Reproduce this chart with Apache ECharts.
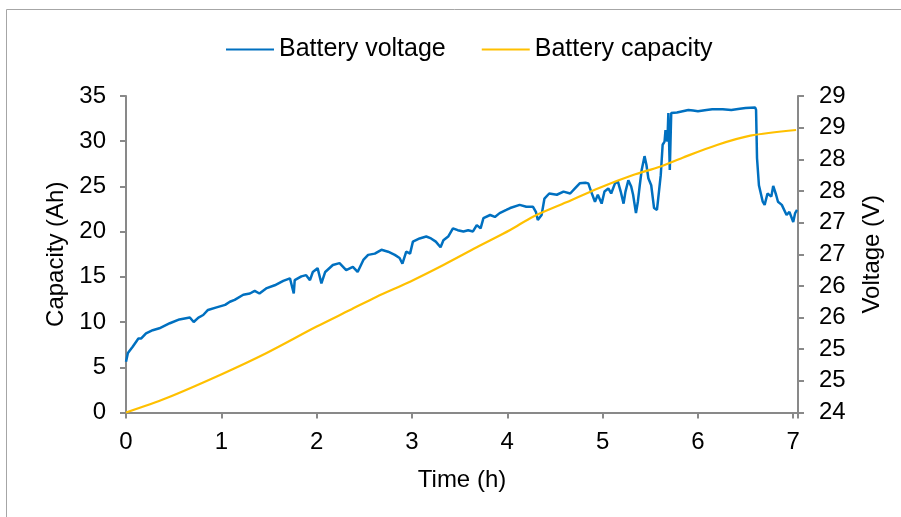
<!DOCTYPE html>
<html>
<head>
<meta charset="utf-8">
<script src="https://cdn.jsdelivr.net/npm/echarts@6/dist/echarts.min.js"></script>
<style>
html,body{margin:0;padding:0;background:#fff;}
#chart{width:901px;height:517px;}
</style>
</head>
<body>
<div id="chart"></div>
<script>
// ---- data ----
const seriesNames = ['Battery voltage', 'Battery capacity'];
const xTickLabels = ['0','1','2','3','4','5','6','7'];
const capTickLabels = ['0','5','10','15','20','25','30','35'];
const voltTickLabels = ['24','25','25','26','26','27','27','28','28','29','29'];

// Battery voltage [time h, volts]
const voltageData = [
[0,24.80],[0.02,24.94],[0.07,25.04],[0.13,25.17],[0.16,25.17],[0.21,25.25],[0.28,25.30],[0.35,25.33],
[0.46,25.41],[0.56,25.47],[0.67,25.50],[0.71,25.43],[0.76,25.50],[0.81,25.54],[0.86,25.62],[0.95,25.66],
[1.04,25.70],[1.09,25.75],[1.14,25.78],[1.23,25.86],[1.30,25.88],[1.35,25.92],[1.40,25.88],[1.47,25.96],
[1.56,26.01],[1.65,26.08],[1.72,26.12],[1.76,25.88],[1.77,26.09],[1.84,26.15],[1.89,26.17],[1.93,26.09],
[1.96,26.22],[2.01,26.28],[2.05,26.04],[2.09,26.22],[2.17,26.33],[2.24,26.36],[2.31,26.25],[2.38,26.30],
[2.43,26.22],[2.49,26.41],[2.54,26.49],[2.61,26.51],[2.68,26.57],[2.75,26.54],[2.82,26.49],[2.87,26.44],
[2.90,26.35],[2.94,26.54],[2.98,26.51],[3.01,26.70],[3.08,26.75],[3.15,26.78],[3.20,26.75],[3.25,26.70],
[3.30,26.61],[3.33,26.72],[3.38,26.78],[3.43,26.91],[3.48,26.88],[3.54,26.86],[3.59,26.88],[3.64,26.86],
[3.68,26.96],[3.72,26.91],[3.75,27.07],[3.82,27.12],[3.87,27.09],[3.92,27.15],[3.99,27.20],[4.03,27.23],
[4.13,27.28],[4.20,27.25],[4.27,27.25],[4.30,27.17],[4.32,27.04],[4.36,27.12],[4.39,27.38],[4.44,27.46],
[4.52,27.44],[4.59,27.49],[4.66,27.46],[4.71,27.54],[4.76,27.62],[4.82,27.63],[4.85,27.62],[4.88,27.49],
[4.92,27.33],[4.95,27.44],[4.99,27.30],[5.02,27.49],[5.06,27.54],[5.09,27.46],[5.13,27.62],[5.16,27.65],
[5.19,27.49],[5.22,27.30],[5.24,27.49],[5.27,27.67],[5.30,27.57],[5.32,27.44],[5.35,27.15],[5.37,27.33],
[5.39,27.59],[5.41,27.83],[5.44,28.05],[5.46,27.91],[5.48,27.70],[5.51,27.59],[5.54,27.23],[5.57,27.20],
[5.58,27.33],[5.61,27.75],[5.63,28.23],[5.65,28.28],[5.66,28.46],[5.68,28.28],[5.69,28.73],[5.705,27.83],
[5.72,28.73],[5.74,28.76],[5.78,28.74],[5.84,28.76],[5.90,28.78],[5.95,28.77],[6.00,28.76],[6.09,28.78],
[6.15,28.79],[6.26,28.79],[6.35,28.78],[6.44,28.80],[6.50,28.81],[6.60,28.82],[6.61,28.78],[6.62,28.02],
[6.64,27.59],[6.68,27.33],[6.70,27.28],[6.73,27.46],[6.75,27.49],[6.77,27.41],[6.79,27.58],[6.82,27.44],
[6.84,27.33],[6.88,27.28],[6.93,27.12],[6.96,27.17],[7.00,27.01],[7.02,27.15],[7.04,27.20]
];

// Battery capacity [time h, Ah]
const capacityData = [
[0,0],[0.42,1.57],[1.01,4.26],[1.47,6.55],[2.0,9.5],[2.35,11.33],[2.63,12.81],[2.98,14.47],
[3.33,16.31],[3.68,18.27],[4.03,20.18],[4.27,21.65],[4.62,23.24],[4.97,24.86],[5.32,26.26],
[5.60,27.18],[5.84,28.18],[6.20,29.58],[6.55,30.61],[7.03,31.24]
];

// ---- chart ----
const FONT = "'Liberation Sans', Arial, sans-serif";
const FS = 24;
const AX = '#898989';
const chart = echarts.init(document.getElementById('chart'), null, {renderer: 'canvas'});
chart.setOption({
  animation: false,
  backgroundColor: '#fff',
  textStyle: {fontFamily: FONT, color: '#000'},
  graphic: [{
    type: 'rect', silent: true,
    shape: {x: 6.5, y: 9.5, width: 1000, height: 1000},
    style: {fill: 'none', stroke: '#a6a6a6', lineWidth: 1}
  }],
  legend: {
    left: 221, top: 32,
    icon: 'rect', itemWidth: 48, itemHeight: 2, itemGap: 36,
    textStyle: {fontFamily: FONT, fontSize: 25, color: '#000'},
    data: seriesNames
  },
  grid: {left: 126, right: 103, top: 96, bottom: 104.5, containLabel: false},
  xAxis: {
    type: 'value', min: 0, max: 7.05, interval: 1,
    name: 'Time (h)', nameLocation: 'middle', nameGap: 56,
    nameTextStyle: {fontFamily: FONT, fontSize: FS, color: '#000'},
    axisLine: {show: true, onZero: false, lineStyle: {color: AX, width: 2}},
    axisTick: {show: true, inside: false, length: 6, lineStyle: {color: AX, width: 2}},
    axisLabel: {margin: 18, fontFamily: FONT, fontSize: FS, color: '#000',
      formatter: (v, i) => (xTickLabels[i] !== undefined && Math.abs(v - i) < 1e-6) ? xTickLabels[i] : ''},
    splitLine: {show: false}
  },
  yAxis: [{
    type: 'value', position: 'left', min: 0, max: 35, interval: 5,
    name: 'Capacity (Ah)', nameLocation: 'middle', nameGap: 52, nameRotate: 90,
    nameTextStyle: {fontFamily: FONT, fontSize: FS, color: '#000'},
    axisLine: {show: true, lineStyle: {color: AX, width: 2}},
    axisTick: {show: true, inside: false, length: 6, lineStyle: {color: AX, width: 2}},
    axisLabel: {margin: 20, fontFamily: FONT, fontSize: FS, color: '#000',
      formatter: (v, i) => capTickLabels[i] !== undefined ? capTickLabels[i] : ''},
    splitLine: {show: false}
  }, {
    type: 'value', position: 'right', min: 24, max: 29, interval: 0.5,
    name: 'Voltage (V)', nameLocation: 'middle', nameGap: 62, nameRotate: 90,
    nameTextStyle: {fontFamily: FONT, fontSize: FS, color: '#000'},
    axisLine: {show: true, lineStyle: {color: AX, width: 2}},
    axisTick: {show: true, inside: false, length: 6, lineStyle: {color: AX, width: 2}},
    axisLabel: {margin: 21, fontFamily: FONT, fontSize: FS, color: '#000',
      formatter: (v, i) => voltTickLabels[i] !== undefined ? voltTickLabels[i] : ''},
    splitLine: {show: false}
  }],
  series: [{
    name: seriesNames[0], type: 'line', yAxisIndex: 1, data: voltageData,
    symbol: 'none', color: '#0070C0', lineStyle: {color: '#0070C0', width: 2.5}
  }, {
    name: seriesNames[1], type: 'line', yAxisIndex: 0, data: capacityData,
    symbol: 'none', smooth: 0.3, color: '#FFC000', lineStyle: {color: '#FFC000', width: 2.2}
  }]
});
</script>
</body>
</html>
